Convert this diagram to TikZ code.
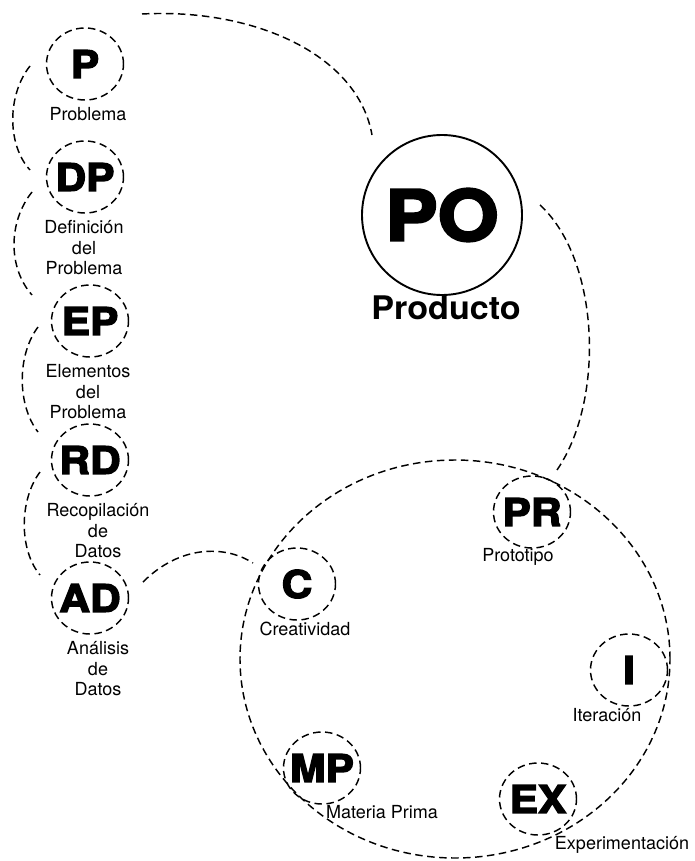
\documentclass[tikz,border=0pt]{standalone}
\usepackage{fontspec}
\setmainfont{TeX Gyre Heros}
\newfontfamily\heavyfont{texgyreheros-bold.otf}[FakeBold=3.5, FakeStretch=1.12]
\newfontfamily\titlefont{texgyreheros-bold.otf}[FakeStretch=1.05]
\usetikzlibrary{shapes.geometric}

% letters set in a zero-width box so the ring keeps its own size
\newcommand{\ringtext}[1]{\makebox[0pt]{#1}}

\tikzset{
  dashline/.style={line width=1.45pt, dash pattern=on 7.5pt off 4.5pt},
  stage/.style={ellipse, draw, dashline, minimum width=77pt, minimum height=72pt,
    inner sep=0pt, font=\heavyfont\fontsize{38}{38}\selectfont},
  caption/.style={inner sep=0pt, align=center, font=\fontsize{18}{20.5}\selectfont},
  link/.style={dashline},
}

\begin{document}
\begin{tikzpicture}[x=1pt, y=-1pt]
\useasboundingbox (0,0) rectangle (694,861);

% left column: problem stages
\node[stage] (P)  at (85,64)  {\ringtext{P}};
\node[stage] (DP) at (85,177) {\ringtext{DP}};
\node[stage] (EP) at (90,321) {\ringtext{EP}};
\node[stage] (RD) at (90,460) {\ringtext{RD}};
\node[stage] (AD) at (90,598) {\ringtext{AD}};

\node[caption] (tP)  at (88,114)  {Problema};
\node[caption] (tDP) at (84,248)  {Definición\\del\\Problema};
\node[caption] (tEP) at (88,392)  {Elementos\\del\\Problema};
\node[caption] (tRD) at (98,531)  {Recopilación\\de\\Datos};
\node[caption] (tAD) at (98,669)  {Análisis\\de\\Datos};

% product
\node[circle, draw, line width=1.9pt, minimum size=160pt, inner sep=0pt,
      font=\heavyfont\fontsize{70}{70}\selectfont] (PO) at (442,215) {\ringtext{PO}};
\node[inner sep=0pt, font=\titlefont\fontsize{32.5}{32.5}\selectfont] (tPO) at (446,308) {Producto};

% design cycle
\node[ellipse, draw, dashline, minimum width=430pt, minimum height=398pt] (cycle) at (455,659) {};

\node[stage] (PR) at (532,512) {\ringtext{PR}};
\node[stage] (C)  at (297,584) {\ringtext{C}};
\node[stage] (I)  at (629,670) {\ringtext{I}};
\node[stage] (MP) at (322,768) {\ringtext{MP}};
\node[stage] (EX) at (538,799) {\ringtext{EX}};

\node[caption] (tPR) at (518,557) {Prototipo};
\node[caption] (tC)  at (305,629) {Creatividad};
\node[caption] (tI)  at (607,715) {Iteración};
\node[caption] (tMP) at (382,812) {Materia Prima};
\node[caption] (tEX) at (622,845) {Experimentación};

% connector end points
\coordinate (a1) at (30,66);   \coordinate (a2) at (30,170);
\coordinate (b1) at (32,192);  \coordinate (b2) at (32,295);
\coordinate (c1) at (38,327);  \coordinate (c2) at (38,432);
\coordinate (d1) at (40,472);  \coordinate (d2) at (40,575);
\coordinate (e1) at (143,582); \coordinate (e2) at (253,563);
\coordinate (f1) at (142,14);  \coordinate (f2) at (372,135);
\coordinate (g1) at (540,205); \coordinate (g2) at (557,470);

% connectors
\draw[link] (a1) .. controls (7,95)  and (7,145)  .. (a2);
\draw[link] (b1) .. controls (8,222) and (8,268)  .. (b2);
\draw[link] (c1) .. controls (17,355) and (17,405) .. (c2);
\draw[link] (d1) .. controls (19,500) and (19,550) .. (d2);
\draw[link] (e1) .. controls (180,545) and (225,545) .. (e2);
\draw[link] (f1) .. controls (255,8) and (358,55) .. (f2);
\draw[link] (g1) .. controls (600,260) and (605,400) .. (g2);
\end{tikzpicture}
\end{document}
